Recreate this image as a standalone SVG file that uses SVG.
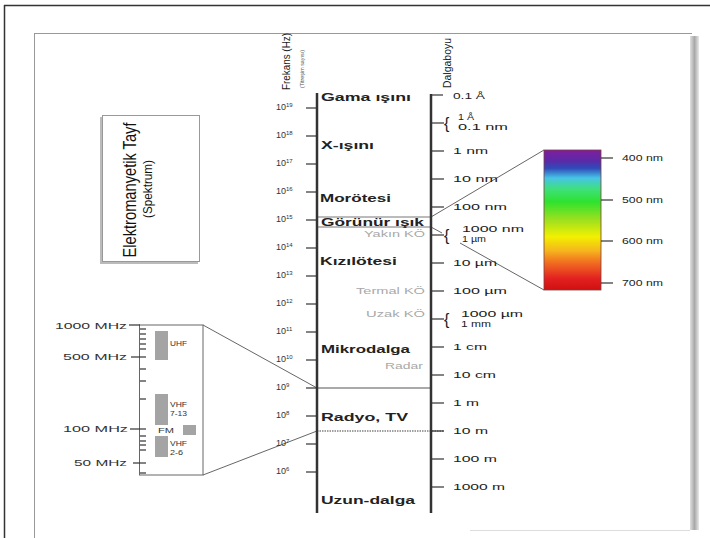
<svg xmlns="http://www.w3.org/2000/svg" width="710" height="538" viewBox="0 0 710 538">
<defs>
<linearGradient id="spec" x1="0" y1="0" x2="0" y2="1">
<stop offset="0" stop-color="#7e1e9e"/>
<stop offset="0.08" stop-color="#5a2aa8"/>
<stop offset="0.13" stop-color="#2f4ab8"/>
<stop offset="0.2" stop-color="#46c4e6"/>
<stop offset="0.28" stop-color="#3ee07a"/>
<stop offset="0.37" stop-color="#2ee22e"/>
<stop offset="0.5" stop-color="#9ee01e"/>
<stop offset="0.62" stop-color="#f2f000"/>
<stop offset="0.72" stop-color="#f6b41e"/>
<stop offset="0.8" stop-color="#f27020"/>
<stop offset="0.92" stop-color="#e22020"/>
<stop offset="1" stop-color="#d01010"/>
</linearGradient>
<linearGradient id="shadow" x1="0" y1="0" x2="1" y2="0">
<stop offset="0" stop-color="#e0e0e0"/>
<stop offset="0.5" stop-color="#a8a8a8"/>
<stop offset="1" stop-color="#e8e8e8"/>
</linearGradient>
<style>
text{font-family:"Liberation Sans",Arial,sans-serif;}
.cat{font-size:11.5px;font-weight:bold;fill:#222;}
.wl{font-size:9px;fill:#222;}
.fq{font-size:9px;fill:#333;}
.sup{font-size:6px;fill:#333;}
.gr{font-size:8.5px;fill:#a8a8a8;text-anchor:end;}
.mhz{font-size:8.5px;fill:#333;text-anchor:end;}
.ins{font-size:7.5px;fill:#333;}
.axis{stroke:#333;stroke-width:2.5;fill:none;}
.tick{stroke:#333;stroke-width:1.2;}
.bar{fill:#a4a4a4;}
.brace{font-size:16px;fill:#222;}
</style>
</defs>
<rect x="0" y="0" width="710" height="538" fill="#fff"/>
<!-- outer frame -->
<g id="frame">
<line x1="4" y1="5.5" x2="710" y2="5.5" stroke="#333" stroke-width="1.5"/>
<line x1="4.5" y1="5" x2="4.5" y2="538" stroke="#333" stroke-width="1.5"/>
<line x1="34" y1="33.5" x2="692" y2="33.5" stroke="#999" stroke-width="1"/>
<line x1="34.5" y1="33" x2="34.5" y2="538" stroke="#999" stroke-width="1"/>
<rect x="690" y="36" width="9" height="494" fill="url(#shadow)"/>
<line x1="470" y1="530.5" x2="690" y2="530.5" stroke="#ddd" stroke-width="1"/>
</g>
<!-- title -->
<g id="title">
<rect x="100" y="117" width="98" height="147" fill="#bbb"/>
<rect x="102.5" y="115.5" width="97" height="146" fill="#fff" stroke="#999" stroke-width="1"/>
<text transform="translate(136,190) rotate(-90)" text-anchor="middle" font-size="18" fill="#111" textLength="135" lengthAdjust="spacingAndGlyphs">Elektromanyetik Tayf</text>
<text transform="translate(152,189) rotate(-90)" text-anchor="middle" font-size="13.5" fill="#111" textLength="58" lengthAdjust="spacingAndGlyphs">(Spektrum)</text>
</g>
<!-- headers -->
<g id="headers">
<text transform="translate(290,90) rotate(-90)" font-size="11" fill="#222" textLength="57" lengthAdjust="spacingAndGlyphs">Frekans (Hz)</text>
<text transform="translate(304,88) rotate(-90)" font-size="5" fill="#555" textLength="38" lengthAdjust="spacingAndGlyphs">(Titreşim sayısı)</text>
<text transform="translate(451,88) rotate(-90)" font-size="11" fill="#222" textLength="50" lengthAdjust="spacingAndGlyphs">Dalgaboyu</text>
</g>
<!-- connectors -->
<g id="connectors">
<line x1="317" y1="217" x2="431" y2="217" stroke="#777" stroke-width="1"/>
<line x1="317" y1="227" x2="431" y2="227" stroke="#777" stroke-width="1"/>
<line x1="431" y1="217" x2="544" y2="150" stroke="#666" stroke-width="1"/>
<line x1="431" y1="227" x2="442" y2="233" stroke="#666" stroke-width="1"/>
<line x1="460" y1="243" x2="544" y2="290" stroke="#666" stroke-width="1"/>
<line x1="317" y1="388" x2="431" y2="388" stroke="#555" stroke-width="1.2"/>
<line x1="317" y1="431" x2="444" y2="431" stroke="#444" stroke-width="1.2" stroke-dasharray="1.5,1"/>
<line x1="203" y1="325" x2="317" y2="388" stroke="#666" stroke-width="1"/>
<line x1="203" y1="475" x2="317" y2="431" stroke="#666" stroke-width="1"/>
</g>
<!-- frequency axis -->
<g id="freq-axis">
<line class="axis" x1="317" y1="93" x2="317" y2="513"/>
<g class="tick">
<line x1="306" y1="108" x2="317" y2="108"/>
<line x1="306" y1="136" x2="317" y2="136"/>
<line x1="306" y1="164" x2="317" y2="164"/>
<line x1="306" y1="192" x2="317" y2="192"/>
<line x1="306" y1="220" x2="317" y2="220"/>
<line x1="306" y1="248" x2="317" y2="248"/>
<line x1="306" y1="276" x2="317" y2="276"/>
<line x1="306" y1="304" x2="317" y2="304"/>
<line x1="306" y1="332" x2="317" y2="332"/>
<line x1="306" y1="360" x2="317" y2="360"/>
<line x1="306" y1="388" x2="317" y2="388"/>
<line x1="306" y1="416" x2="317" y2="416"/>
<line x1="306" y1="444" x2="317" y2="444"/>
<line x1="306" y1="472" x2="317" y2="472"/>
</g>
<text class="fq" x="276" y="110">10<tspan class="sup" dy="-3.5">19</tspan></text>
<text class="fq" x="276" y="138">10<tspan class="sup" dy="-3.5">18</tspan></text>
<text class="fq" x="276" y="166">10<tspan class="sup" dy="-3.5">17</tspan></text>
<text class="fq" x="276" y="194">10<tspan class="sup" dy="-3.5">16</tspan></text>
<text class="fq" x="276" y="222">10<tspan class="sup" dy="-3.5">15</tspan></text>
<text class="fq" x="276" y="250">10<tspan class="sup" dy="-3.5">14</tspan></text>
<text class="fq" x="276" y="278">10<tspan class="sup" dy="-3.5">13</tspan></text>
<text class="fq" x="276" y="306">10<tspan class="sup" dy="-3.5">12</tspan></text>
<text class="fq" x="276" y="334">10<tspan class="sup" dy="-3.5">11</tspan></text>
<text class="fq" x="276" y="362">10<tspan class="sup" dy="-3.5">10</tspan></text>
<text class="fq" x="276" y="390">10<tspan class="sup" dy="-3.5">9</tspan></text>
<text class="fq" x="276" y="418">10<tspan class="sup" dy="-3.5">8</tspan></text>
<text class="fq" x="276" y="446">10<tspan class="sup" dy="-3.5">7</tspan></text>
<text class="fq" x="276" y="474">10<tspan class="sup" dy="-3.5">6</tspan></text>
</g>
<!-- categories -->
<g id="categories">
<text class="cat" x="321" y="101" textLength="90" lengthAdjust="spacingAndGlyphs">Gama ışını</text>
<text class="cat" x="321" y="149" textLength="53" lengthAdjust="spacingAndGlyphs">X-ışını</text>
<text class="cat" x="320" y="202" textLength="71" lengthAdjust="spacingAndGlyphs">Morötesi</text>
<text class="cat" x="321" y="225.5" textLength="103" lengthAdjust="spacingAndGlyphs">Görünür ışık</text>
<text class="cat" x="320" y="265" textLength="77" lengthAdjust="spacingAndGlyphs">Kızılötesi</text>
<text class="cat" x="321" y="353" textLength="89" lengthAdjust="spacingAndGlyphs">Mikrodalga</text>
<text class="cat" x="321" y="421" textLength="87" lengthAdjust="spacingAndGlyphs">Radyo, TV</text>
<text class="cat" x="321" y="504" textLength="94" lengthAdjust="spacingAndGlyphs">Uzun-dalga</text>
<text class="gr" x="425" y="237" textLength="61" lengthAdjust="spacingAndGlyphs">Yakın KÖ</text>
<text class="gr" x="425" y="294" textLength="69" lengthAdjust="spacingAndGlyphs">Termal KÖ</text>
<text class="gr" x="425" y="317" textLength="59" lengthAdjust="spacingAndGlyphs">Uzak KÖ</text>
<text class="gr" x="423" y="369" textLength="38" lengthAdjust="spacingAndGlyphs">Radar</text>
</g>
<!-- wavelength axis -->
<g id="wave-axis">
<line class="axis" x1="431" y1="94" x2="431" y2="513"/>
<g class="tick">
<line x1="431" y1="95" x2="443" y2="95"/>
<line x1="431" y1="123" x2="444" y2="123"/>
<line x1="431" y1="151" x2="444" y2="151"/>
<line x1="431" y1="179" x2="444" y2="179"/>
<line x1="431" y1="207" x2="444" y2="207"/>
<line x1="431" y1="235" x2="444" y2="235"/>
<line x1="431" y1="263" x2="444" y2="263"/>
<line x1="431" y1="291" x2="444" y2="291"/>
<line x1="431" y1="319" x2="444" y2="319"/>
<line x1="431" y1="347" x2="444" y2="347"/>
<line x1="431" y1="375" x2="444" y2="375"/>
<line x1="431" y1="403" x2="444" y2="403"/>
<line x1="431" y1="431" x2="444" y2="431"/>
<line x1="431" y1="459" x2="444" y2="459"/>
<line x1="431" y1="487" x2="444" y2="487"/>
</g>
<text class="wl" x="453" y="98.5" textLength="32" lengthAdjust="spacingAndGlyphs">0.1 Å</text>
<text class="brace" x="444" y="129">{</text>
<text class="wl" x="458" y="120" textLength="16" lengthAdjust="spacingAndGlyphs">1 Å</text>
<text class="wl" x="458" y="130" textLength="50" lengthAdjust="spacingAndGlyphs">0.1 nm</text>
<text class="wl" x="453" y="154" textLength="35" lengthAdjust="spacingAndGlyphs">1 nm</text>
<text class="wl" x="453" y="182" textLength="45" lengthAdjust="spacingAndGlyphs">10 nm</text>
<text class="wl" x="453" y="210" textLength="54" lengthAdjust="spacingAndGlyphs">100 nm</text>
<text class="brace" x="444" y="241">{</text>
<text class="wl" x="462" y="232" textLength="62" lengthAdjust="spacingAndGlyphs">1000 nm</text>
<text class="wl" x="462" y="242" textLength="24" lengthAdjust="spacingAndGlyphs">1 µm</text>
<text class="wl" x="453" y="266" textLength="44" lengthAdjust="spacingAndGlyphs">10 µm</text>
<text class="wl" x="453" y="294" textLength="54" lengthAdjust="spacingAndGlyphs">100 µm</text>
<text class="brace" x="444" y="325">{</text>
<text class="wl" x="461" y="317" textLength="62" lengthAdjust="spacingAndGlyphs">1000 µm</text>
<text class="wl" x="461" y="327" textLength="30" lengthAdjust="spacingAndGlyphs">1 mm</text>
<text class="wl" x="453" y="350" textLength="34" lengthAdjust="spacingAndGlyphs">1 cm</text>
<text class="wl" x="453" y="378" textLength="43" lengthAdjust="spacingAndGlyphs">10 cm</text>
<text class="wl" x="453" y="406" textLength="26" lengthAdjust="spacingAndGlyphs">1 m</text>
<text class="wl" x="453" y="434" textLength="35" lengthAdjust="spacingAndGlyphs">10 m</text>
<text class="wl" x="453" y="462" textLength="44" lengthAdjust="spacingAndGlyphs">100 m</text>
<text class="wl" x="453" y="490" textLength="52" lengthAdjust="spacingAndGlyphs">1000 m</text>
</g>
<!-- visible spectrum bar -->
<g id="visible-bar">
<rect x="544" y="150" width="57" height="140" fill="url(#spec)" stroke="#7a4040" stroke-width="0.8"/>
<g class="tick">
<line x1="601" y1="158" x2="613" y2="158"/>
<line x1="601" y1="200" x2="613" y2="200"/>
<line x1="601" y1="241" x2="613" y2="241"/>
<line x1="601" y1="283" x2="613" y2="283"/>
</g>
<text class="wl" x="622" y="161" textLength="41" lengthAdjust="spacingAndGlyphs">400 nm</text>
<text class="wl" x="622" y="203" textLength="41" lengthAdjust="spacingAndGlyphs">500 nm</text>
<text class="wl" x="622" y="244" textLength="41" lengthAdjust="spacingAndGlyphs">600 nm</text>
<text class="wl" x="622" y="286" textLength="41" lengthAdjust="spacingAndGlyphs">700 nm</text>
</g>
<!-- radio inset -->
<g id="radio-inset">
<rect x="139.5" y="325" width="63.5" height="150" fill="#fff" stroke="#666" stroke-width="1"/>
<g class="tick">
<line x1="129" y1="325" x2="140" y2="325"/>
<line x1="131" y1="357" x2="146" y2="357"/>
<line x1="130" y1="429" x2="146" y2="429"/>
<line x1="133" y1="463" x2="146" y2="463"/>
<line x1="140" y1="329" x2="146" y2="329"/>
<line x1="140" y1="334" x2="146" y2="334"/>
<line x1="140" y1="339" x2="146" y2="339"/>
<line x1="140" y1="344" x2="146" y2="344"/>
<line x1="140" y1="349" x2="146" y2="349"/>
<line x1="140" y1="369" x2="146" y2="369"/>
<line x1="140" y1="381" x2="146" y2="381"/>
<line x1="140" y1="399" x2="146" y2="399"/>
<line x1="140" y1="436" x2="146" y2="436"/>
<line x1="140" y1="441" x2="146" y2="441"/>
<line x1="140" y1="445" x2="146" y2="445"/>
<line x1="140" y1="450" x2="146" y2="450"/>
<line x1="140" y1="473" x2="146" y2="473"/>
</g>
<text class="mhz" x="127" y="328.5" textLength="72" lengthAdjust="spacingAndGlyphs">1000 MHz</text>
<text class="mhz" x="127" y="360" textLength="64" lengthAdjust="spacingAndGlyphs">500 MHz</text>
<text class="mhz" x="128" y="432" textLength="65" lengthAdjust="spacingAndGlyphs">100 MHz</text>
<text class="mhz" x="127" y="466" textLength="53" lengthAdjust="spacingAndGlyphs">50 MHz</text>
<rect class="bar" x="155" y="331" width="13" height="29"/>
<rect class="bar" x="155" y="394" width="13" height="31"/>
<rect class="bar" x="155" y="436" width="13" height="21"/>
<rect class="bar" x="183" y="425" width="13" height="10"/>
<text class="ins" x="170" y="346" textLength="17" lengthAdjust="spacingAndGlyphs">UHF</text>
<text class="ins" x="170" y="407" textLength="17" lengthAdjust="spacingAndGlyphs">VHF</text>
<text class="ins" x="170" y="416" textLength="17" lengthAdjust="spacingAndGlyphs">7-13</text>
<text class="ins" x="158" y="432.5" textLength="16" lengthAdjust="spacingAndGlyphs">FM</text>
<text class="ins" x="170" y="446" textLength="17" lengthAdjust="spacingAndGlyphs">VHF</text>
<text class="ins" x="170" y="455" textLength="13" lengthAdjust="spacingAndGlyphs">2-6</text>
</g>
</svg>
